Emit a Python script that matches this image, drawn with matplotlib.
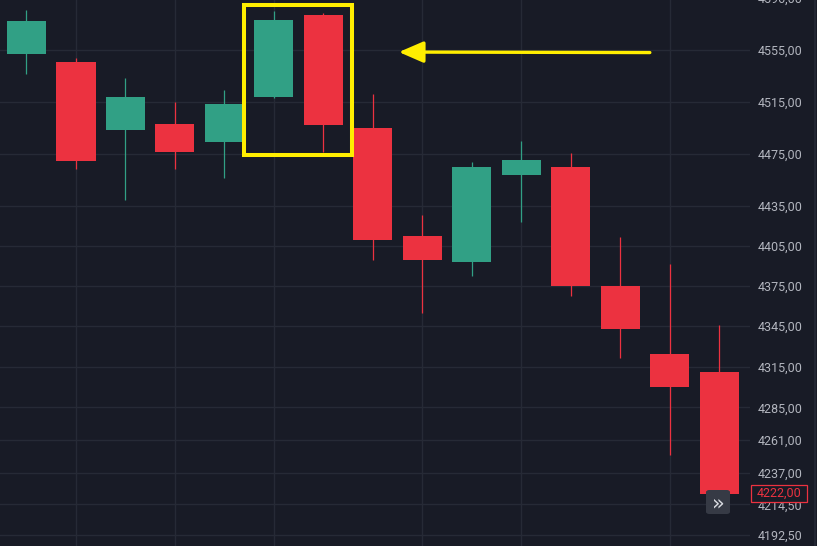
import matplotlib
matplotlib.use("Agg")
import matplotlib.pyplot as plt
from matplotlib.patches import Rectangle, FancyArrowPatch, FancyBboxPatch, ArrowStyle
from matplotlib.lines import Line2D
import matplotlib.transforms as mtransforms

# ---- data ----
opens  = [4552, 4546, 4493, 4498, 4484, 4518.5, 4582, 4494.5, 4412.5, 4393, 4459, 4465, 4375, 4324.5, 4311]
highs  = [4586, 4549, 4533, 4515, 4524, 4585.5, 4584, 4521, 4428, 4468.5, 4484.5, 4475.5, 4411.5, 4391, 4345.5]
lows   = [4536, 4463, 4440, 4463.5, 4456.5, 4518, 4476.5, 4394, 4355, 4382.5, 4423, 4367.5, 4321.5, 4250.5, 4222]
closes = [4578, 4469, 4518.5, 4476, 4513, 4578.5, 4497, 4409.5, 4394, 4465, 4470, 4374.5, 4343, 4300, 4222]
price_ticks = [4555, 4515, 4475, 4435, 4405, 4375, 4345, 4315, 4285, 4261, 4237, 4214.5, 4192.5]
top_tick = 4596
last_price = 4222
vgrid_idx = [1, 3, 5, 8, 10, 13]

BG = "#181b26"
GRID = "#262a36"
GREEN = "#31a085"
RED = "#ec3240"
LABEL = "#b2b5be"
YELLOW = "#ffee00"
FS = 9.0

def fmt(v):
    return f"{v:.2f}".replace(".", ",")

fig = plt.figure(figsize=(8.17, 5.46), dpi=100, facecolor=BG)
ax = fig.add_axes([0, 0, 750/817, 1])
ax.set_facecolor(BG)
ax.set_yscale("log")
ax.set_xlim(-0.535, 14.62)
ax.set_ylim(4184.6, 4594.1)

# grid
for v in price_ticks:
    ax.axhline(v, color=GRID, lw=1.0, zorder=0)
for i in vgrid_idx:
    ax.axvline(i, color=GRID, lw=1.0, zorder=0)

# candles
n = len(opens)
xs = list(range(n))
w = 0.79
for i in xs:
    o, h, l, c = opens[i], highs[i], lows[i], closes[i]
    col = GREEN if c >= o else RED
    ax.vlines(i, l, h, color=col, lw=0.9, zorder=2)
    ax.bar(i, abs(c - o), bottom=min(o, c), width=w, color=col, linewidth=0, zorder=3)

# axes styling
for s in ax.spines.values():
    s.set_visible(False)
ax.set_xticks([])
ax.yaxis.tick_right()
ax.set_yticks(price_ticks)
ax.set_yticklabels([fmt(v) for v in price_ticks])
ax.yaxis.set_minor_locator(matplotlib.ticker.NullLocator())
ax.tick_params(axis="y", length=0, pad=5.6, labelsize=FS, labelcolor=LABEL)
for t in ax.get_yticklabels():
    t.set_fontfamily("Roboto")

# top cut-off label
trans = mtransforms.blended_transform_factory(ax.transAxes, ax.transData)
ax.text(1 + 7.8/750, top_tick, fmt(top_tick), transform=trans, color=LABEL, fontsize=FS,
        family="Roboto", va="center_baseline", ha="left", clip_on=False)

# highlight rectangle
rect = Rectangle((4.394, 4473.9), 6.576 - 4.394, 4590.2 - 4473.9, fill=False,
                 edgecolor=YELLOW, lw=2.9, zorder=5, joinstyle="miter")
ax.add_patch(rect)

# arrow
arr = FancyArrowPatch((12.596, 4553.0), (7.525, 4553.4),
                      arrowstyle=ArrowStyle("-|>", head_length=15, head_width=6.5),
                      mutation_scale=1, color=YELLOW, lw=2.4, shrinkA=0, shrinkB=0, zorder=6)
ax.add_patch(arr)

# last price label
fig.patches.append(Rectangle((750.5/817, (546-502)/546), 56/817, 17/546, transform=fig.transFigure,
                             facecolor=BG, edgecolor=RED, lw=0.9, zorder=10))
fig.text(779/817, (546-493.5)/546, fmt(last_price), color=RED, fontsize=FS, family="Roboto",
         ha="center", va="center", zorder=11)

# right border line
fig.add_artist(Line2D([814.5/817, 814.5/817], [0, 1], transform=fig.transFigure, color="#262a36", lw=1.2))

# scroll button
fig.patches.append(FancyBboxPatch((706/817, (546-514)/546), 24/817, 24/546,
                                  boxstyle="round,pad=0,rounding_size=0.004",
                                  transform=fig.transFigure, facecolor="#363a45", edgecolor="none", zorder=10))
fig.text(718/817, (546-503)/546, "»", color="#d8dae0", fontsize=15, ha="center", va="center",
         family="DejaVu Sans", zorder=11)

fig.savefig("out.png", dpi=100, facecolor=BG)
